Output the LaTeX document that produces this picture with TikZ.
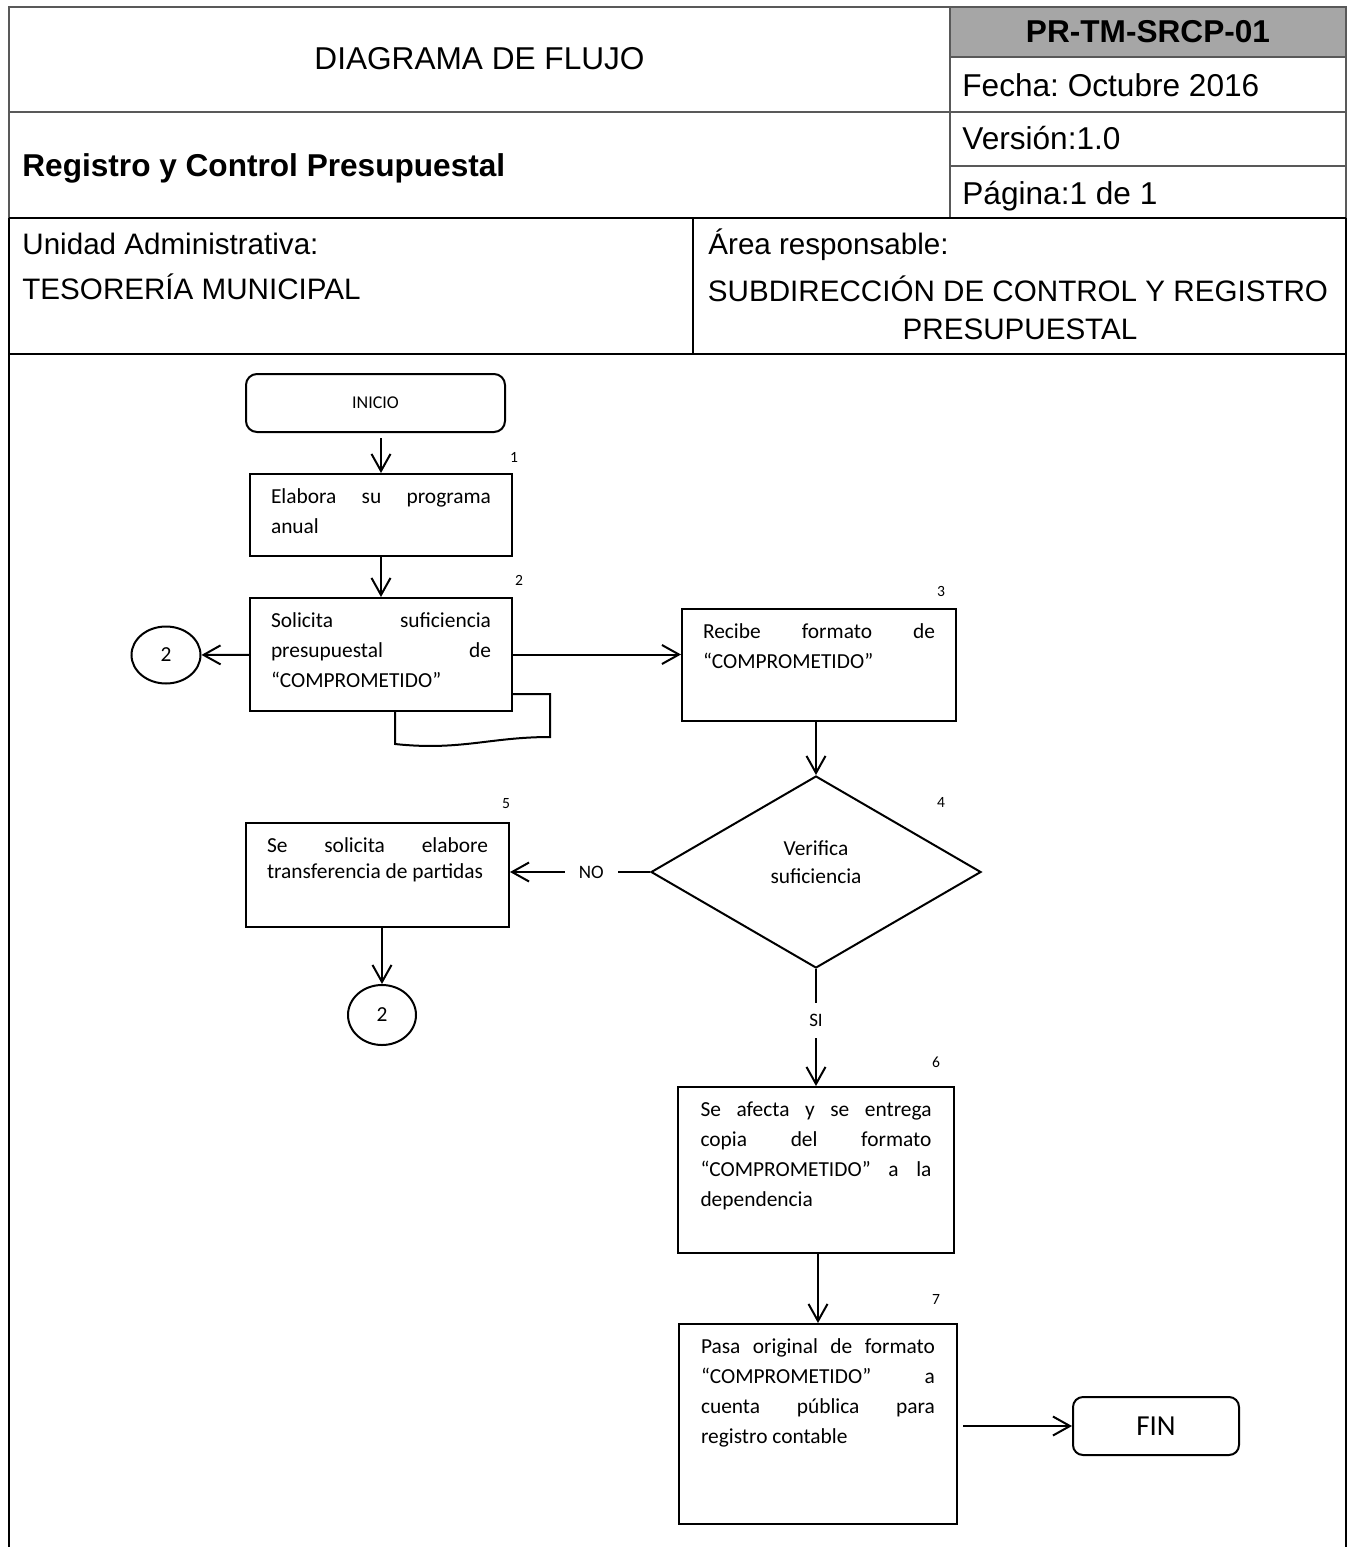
\documentclass[tikz,border=0pt]{standalone}
\usepackage{fontspec}
\setmainfont{Liberation Sans}
\newfontfamily\calibri{Carlito}
\usetikzlibrary{arrows.meta}
\usetikzlibrary{shapes.geometric}
\frenchspacing

\definecolor{lineagris}{RGB}{89,89,89}
\definecolor{celdagris}{RGB}{166,166,166}

\tikzset{
  paso/.style={draw, line width=1pt, rectangle, inner sep=0pt},
  texto/.style={font=\calibri\fontsize{10.7}{15}\selectfont, align=justify, anchor=north, inner ysep=7.5pt},
  num/.style={font=\calibri\fontsize{7.8}{9}\selectfont, inner sep=0pt},
  terminal/.style={draw, line width=1pt, rounded corners=5.5pt, inner sep=0pt},
  conector/.style={draw, line width=1pt, ellipse, inner sep=0pt, font=\calibri\fontsize{10.7}{13}\selectfont},
  decision/.style={draw, line width=1pt, diamond, inner sep=0pt},
  flecha/.style={line width=1pt, arrows={-{Straight Barb[length=8.5pt,width=9.5pt]}}},
  rotulo/.style={font=\calibri\fontsize{9.5}{11}\selectfont},
  cabecera/.style={font=\fontsize{15.8}{19}\selectfont, inner sep=0pt},
  campo/.style={font=\fontsize{14.8}{18}\selectfont, inner sep=0pt},
}

\begin{document}
\begin{tikzpicture}[x=0.5pt, y=-0.5pt]
\def\u{0.5pt}
\useasboundingbox (0,0) rectangle (1351,1547);

% encabezado
\fill[celdagris] (950,7) rectangle (1346,57);
\draw[lineagris, line width=1pt] (9,7) rectangle (1346,218);
\draw[lineagris, line width=1pt] (9,112) -- (1346,112);
\draw[lineagris, line width=1pt] (950,7) -- (950,218);
\draw[lineagris, line width=1pt] (950,57) -- (1346,57) (950,166) -- (1346,166);
\draw[line width=1.4pt] (9,218) -- (1346,218) (9,354) -- (1346,354) (693,218) -- (693,354);
\draw[line width=1.2pt] (9,218) -- (9,1547) (1346,218) -- (1346,1547);

\node[cabecera] (titulo) at (479.5,59) {DIAGRAMA DE FLUJO};
\node[cabecera, font=\fontsize{15.8}{19}\selectfont\bfseries] (codigo) at (1148,32) {PR-TM-SRCP-01};
\node[cabecera, anchor=base west] (fecha) at (962,96) {Fecha: Octubre 2016};
\node[cabecera, anchor=base west] (version) at (962,149) {Versión:1.0};
\node[cabecera, anchor=base west] (pagina) at (962,204) {Página:1 de 1};
\node[cabecera, anchor=base west, font=\fontsize{15.8}{19}\selectfont\bfseries] (proceso) at (22,176) {Registro y Control Presupuestal};
\node[campo, anchor=base west] (unidad) at (22,254) {Unidad Administrativa:};
\node[campo, anchor=base west] (tesoreria) at (22,299) {TESORERÍA MUNICIPAL};
\node[campo, anchor=base west] (area) at (708,254) {Área responsable:};
\node[campo, anchor=base] (subdir) at (1018,301) {SUBDIRECCIÓN DE CONTROL Y REGISTRO};
\node[campo, anchor=base] (presup) at (1020,339) {PRESUPUESTAL};

% diagrama
\node[terminal, minimum width=259*\u, minimum height=58*\u, font=\calibri\fontsize{9}{11}\selectfont] (inicio) at (375.5,403) {INICIO};
\node[paso, minimum width=262*\u, minimum height=82*\u,
  label={[texto, text width=220*\u]north:{Elabora su programa\linebreak anual}}] (elabora) at (381,515) {};
\node[paso, minimum width=262*\u, minimum height=113*\u,
  label={[texto, text width=220*\u]north:{Solicita suficiencia\linebreak presupuestal de\linebreak “COMPROMETIDO”}}] (solicita) at (381,654.5) {};
\node[paso, minimum width=274*\u, minimum height=112*\u,
  label={[texto, text width=232*\u]north:{Recibe formato de\linebreak “COMPROMETIDO”}}] (recibe) at (819,665) {};
\node[decision, minimum width=330*\u, minimum height=192*\u,
  label={[font=\calibri\fontsize{10.7}{14}\selectfont, align=center, yshift=5pt]center:Verifica\\suficiencia}] (verifica) at (816,872) {};
\node[paso, minimum width=263*\u, minimum height=104*\u,
  label={[texto, text width=221*\u, font=\calibri\fontsize{10.7}{13}\selectfont]north:{Se solicita elabore\linebreak transferencia de partidas}}] (transfer) at (377.5,875) {};
\node[conector, minimum width=69*\u, minimum height=57*\u] (conA) at (166,655) {2};
\node[conector, minimum width=68*\u, minimum height=60*\u] (conB) at (382,1015) {2};
\node[paso, minimum width=276*\u, minimum height=166*\u,
  label={[texto, text width=231*\u]north:{Se afecta y se entrega\linebreak copia del formato\linebreak “COMPROMETIDO” a la\linebreak dependencia}}] (afecta) at (816,1170) {};
\node[paso, minimum width=278*\u, minimum height=200*\u,
  label={[texto, text width=234*\u]north:{Pasa original de formato\linebreak “COMPROMETIDO” a\linebreak cuenta pública para\linebreak registro contable}}] (pasa) at (818,1424) {};
\node[terminal, minimum width=166*\u, minimum height=58*\u, rounded corners=5pt, font=\calibri\fontsize{14.5}{17}\selectfont] (fin) at (1156,1426) {FIN};

% hoja del documento
\draw[line width=1pt] (512,694) -- (550,694) -- (550,737) .. controls (490,737) and (460,751) .. (395,744) -- (395,711);

% numeros de paso
\node[num] (n1) at (514,457) {1};
\node[num] (n2) at (519,580) {2};
\node[num] (n3) at (941,591) {3};
\node[num] (n4) at (941,802) {4};
\node[num] (n5) at (506,804) {5};
\node[num] (n6) at (936,1062) {6};
\node[num] (n7) at (936,1299) {7};

% flechas
\draw[flecha, shorten <=2.5pt] (elabora.north |- inicio.south) -- (elabora.north);
\draw[flecha] (elabora) -- (solicita);
\draw[flecha] (solicita) -- (conA);
\draw[flecha] (solicita.east) -- (solicita.east -| recibe.west);
\draw[flecha] (verifica.north |- recibe.south) -- (verifica.north);
\draw[flecha] (verifica.west) -- node[rotulo, fill=white, inner xsep=7pt, pos=0.42] {NO} (verifica.west -| transfer.east);
\draw[flecha] (conB.north |- transfer.south) -- (conB.north);
\draw[flecha] (verifica.south) -- node[rotulo, fill=white, inner ysep=5.5pt, pos=0.44] {SI} (afecta.north);
\draw[flecha] (pasa.north |- afecta.south) -- (pasa.north);
\draw[flecha, shorten <=2.5pt] (fin.west -| pasa.east) -- (fin.west);
\end{tikzpicture}
\end{document}
